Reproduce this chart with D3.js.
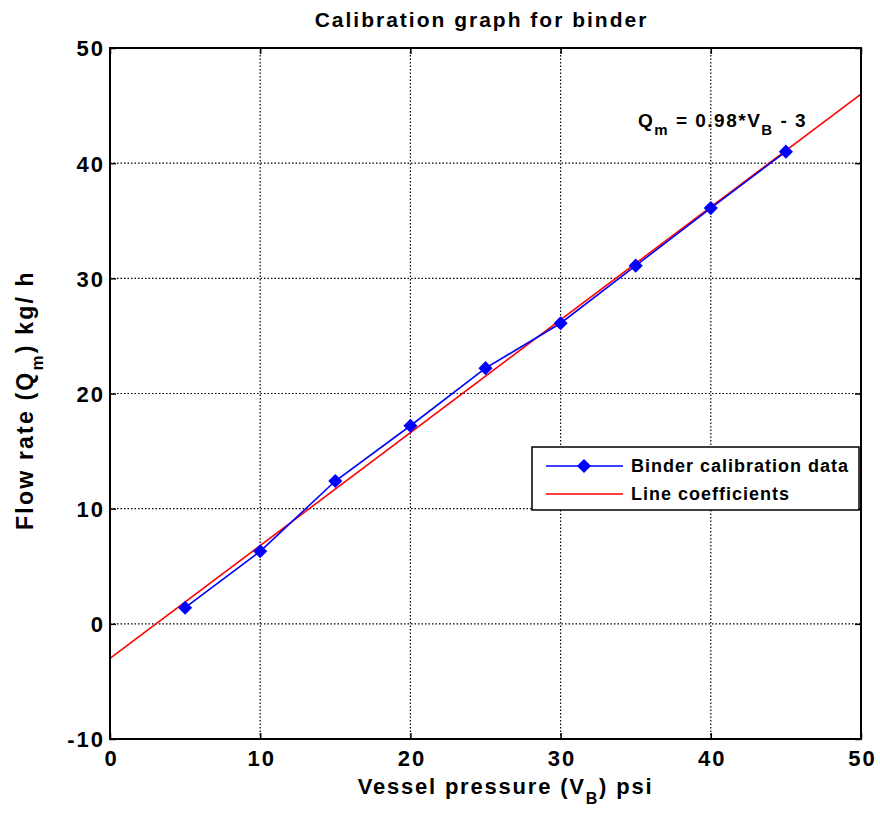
<!DOCTYPE html>
<html><head><meta charset="utf-8">
<script src="https://cdn.jsdelivr.net/npm/d3@7"></script>
<style>body{margin:0;background:#fff}</style>
</head><body>
<svg id="c" width="880" height="823"></svg>
<script>
const pressure = [5, 10, 15, 20, 25, 30, 35, 40, 45];
const flowRate = [1.4, 6.3, 12.4, 17.2, 22.2, 26.1, 31.1, 36.1, 41.0];
const fitSlope = 0.98, fitIntercept = -3;
const fitX = [0, 50];
const xTicks = [0, 10, 20, 30, 40, 50];
const yTicks = [-10, 0, 10, 20, 30, 40, 50];
const legendLabels = ["Binder calibration data", "Line coefficients"];

const svg = d3.select("#c");
const L = 110, R = 861, T = 48, B = 739;
const x = d3.scaleLinear().domain([0, 50]).range([L, R]);
const y = d3.scaleLinear().domain([-10, 50]).range([B, T]);
const font = "'Liberation Sans', Arial, Helvetica, sans-serif";

// grid
const g = svg.append("g");
g.selectAll(".gx").data(xTicks.slice(1, -1)).enter().append("line")
  .attr("x1", d => x(d)).attr("x2", d => x(d)).attr("y1", T).attr("y2", B)
  .attr("stroke", "#000").attr("stroke-width", 1.2).attr("stroke-dasharray", "1.5,2");
g.selectAll(".gy").data(yTicks.slice(1, -1)).enter().append("line")
  .attr("y1", d => y(d)).attr("y2", d => y(d)).attr("x1", L).attr("x2", R)
  .attr("stroke", "#000").attr("stroke-width", 1.2).attr("stroke-dasharray", "1.5,2");

// fit line
const fitLine = d3.line().x(d => x(d)).y(d => y(fitSlope * d + fitIntercept));
svg.append("path").attr("d", fitLine(fitX)).attr("fill", "none")
  .attr("stroke", "#ff0000").attr("stroke-width", 1.6);

// data line
const data = pressure.map((p, i) => [p, flowRate[i]]);
svg.append("path").attr("d", d3.line().x(d => x(d[0])).y(d => y(d[1]))(data))
  .attr("fill", "none").attr("stroke", "#0000ff").attr("stroke-width", 1.6);
const diamond = d3.symbol().type(d3.symbolSquare).size(100);
svg.selectAll(".pt").data(data).enter().append("path")
  .attr("d", diamond).attr("transform", d => `translate(${x(d[0])},${y(d[1])}) rotate(45)`)
  .attr("fill", "#0000ff");

// axes
const fmt = d => String(d);
const xa = svg.append("g").attr("transform", `translate(0,${B})`)
  .call(d3.axisBottom(x).tickValues(xTicks).tickSize(-6).tickPadding(11).tickFormat(fmt));
const ya = svg.append("g").attr("transform", `translate(${L},0)`)
  .call(d3.axisLeft(y).tickValues(yTicks).tickSize(-6).tickPadding(5).tickFormat(fmt));
svg.append("g").attr("transform", `translate(0,${T})`).call(d3.axisTop(x).tickValues(xTicks).tickSize(-6).tickFormat(""));
svg.append("g").attr("transform", `translate(${R},0)`).call(d3.axisRight(y).tickValues(yTicks).tickSize(-6).tickFormat(""));
svg.selectAll(".domain").remove();
svg.selectAll(".tick line").attr("stroke", "#000").attr("stroke-width", 1.5);
svg.selectAll(".tick text").attr("font-family", font).attr("font-size", 22).attr("font-weight", "bold")
  .attr("letter-spacing", 2).attr("fill", "#000");
xa.selectAll(".tick text").attr("dx", 1);
ya.selectAll(".tick text").attr("dy", "0.36em");

svg.append("rect").attr("x", L).attr("y", T).attr("width", R - L).attr("height", B - T)
  .attr("fill", "none").attr("stroke", "#000").attr("stroke-width", 2);

// title
svg.append("text").attr("x", (L + R) / 2 - 4).attr("y", 27).attr("text-anchor", "middle")
  .attr("font-family", font).attr("font-size", 21).attr("font-weight", "bold").attr("letter-spacing", 2)
  .attr("fill", "#000").text("Calibration graph for binder");

// x label
const xl = svg.append("text").attr("x", (L + R) / 2 + 20).attr("y", 794).attr("text-anchor", "middle")
  .attr("font-family", font).attr("font-size", 22).attr("font-weight", "bold").attr("letter-spacing", 1.8).attr("fill", "#000");
xl.append("tspan").text("Vessel pressure (V");
xl.append("tspan").attr("font-size", 16).attr("dy", 10).text("B");
xl.append("tspan").attr("dy", -10).text(") psi");

// y label
const yl = svg.append("text").attr("transform", `translate(33,400) rotate(-90)`).attr("text-anchor", "middle")
  .attr("font-family", font).attr("font-size", 23).attr("font-weight", "bold").attr("letter-spacing", 2.2).attr("fill", "#000");
yl.append("tspan").text("Flow rate (Q");
yl.append("tspan").attr("font-size", 17).attr("dy", 10).text("m");
yl.append("tspan").attr("dy", -10).text(") kg/ h");

// equation
const eq = svg.append("text").attr("x", 638).attr("y", 127)
  .attr("font-family", font).attr("font-size", 19).attr("font-weight", "bold").attr("letter-spacing", 1.5).attr("fill", "#000");
eq.append("tspan").text("Q");
eq.append("tspan").attr("font-size", 15).attr("dy", 8).text("m");
eq.append("tspan").attr("dy", -8).text("  =  0.98*V");
eq.append("tspan").attr("font-size", 15).attr("dy", 8).text("B");
eq.append("tspan").attr("dy", -8).text(" - 3");

// legend
const lg = svg.append("g");
lg.append("rect").attr("x", 532).attr("y", 447).attr("width", 327).attr("height", 63)
  .attr("fill", "#fff").attr("stroke", "#000").attr("stroke-width", 1.5);
const ly = [466, 494];
const lc = ["#0000ff", "#ff0000"];
legendLabels.forEach((t, i) => {
  lg.append("line").attr("x1", 546).attr("x2", 623).attr("y1", ly[i]).attr("y2", ly[i])
    .attr("stroke", lc[i]).attr("stroke-width", 1.6);
  lg.append("text").attr("x", 631).attr("y", ly[i]).attr("dy", "0.36em")
    .attr("font-family", font).attr("font-size", 18).attr("font-weight", "bold").attr("letter-spacing", 1)
    .attr("fill", "#000").text(t);
});
lg.append("path").attr("d", diamond).attr("transform", `translate(584,${ly[0]}) rotate(45)`).attr("fill", "#0000ff");
</script>
</body></html>
